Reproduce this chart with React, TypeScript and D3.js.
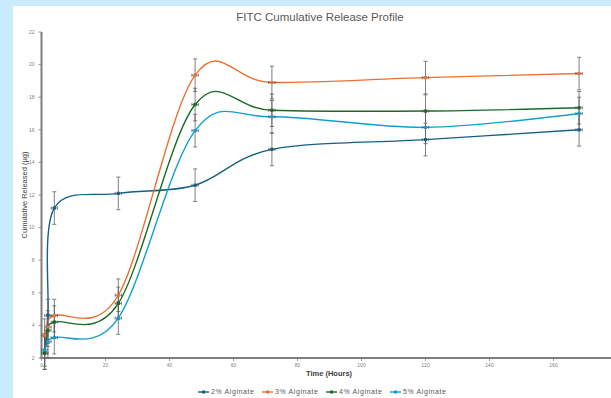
import React from 'react';
import * as d3 from 'd3';

// sampling times (hours)
const times = [1, 2, 4, 24, 48, 72, 120, 168];

// cumulative FITC released (µg) per alginate concentration
const alg2 = [2.3, 4.6, 11.2, 12.1, 12.6, 14.8, 15.4, 16.0];
const alg3 = [3.4, 3.9, 4.6, 5.85, 19.35, 18.9, 19.2, 19.45];
const alg4 = [2.3, 3.7, 4.2, 5.35, 17.55, 17.2, 17.15, 17.35];
const alg5 = [2.5, 3.0, 3.25, 4.45, 15.95, 16.8, 16.15, 17.0];

const seriesNames = ['2% Alginate', '3% Alginate', '4% Alginate', '5% Alginate'];
const seriesColors = ['#156082', '#E97132', '#196B24', '#0F9ED5'];

const yErr = 1;
const xErr = 1;

const xTicks = [0, 20, 40, 60, 80, 100, 120, 140, 160];
const yTicks = [2, 4, 6, 8, 10, 12, 14, 16, 18, 20, 22];

const W = 611;
const H = 398;

export default function App() {
  const x = d3.scaleLinear().domain([0, 180]).range([41.5, 617.5]);
  const y = d3.scaleLinear().domain([2, 22]).range([358, 32]);

  const allSeries = [alg2, alg3, alg4, alg5].map((vals, i) => ({
    name: seriesNames[i],
    color: seriesColors[i],
    points: vals.map((v, j) => ({ t: times[j], v })),
  }));

  const line = d3
    .line<{ t: number; v: number }>()
    .x(d => x(d.t))
    .y(d => y(d.v))
    .curve(d3.curveCardinal.tension(0));

  const errColor = '#5a5a5a';
  const font = 'Liberation Sans, Arial, sans-serif';

  return (
    <svg
      width={W}
      height={H}
      style={{ position: 'absolute', left: 0, top: 0, fontFamily: font }}
    >
      <rect x={0} y={0} width={W} height={H} fill="#caebfb" />
      <rect x={13} y={6} width={W - 13} height={H - 6} fill="#ffffff" />

      <text x={320} y={21} textAnchor="middle" fontSize={11.5} fill="#595959">
        FITC Cumulative Release Profile
      </text>

      {/* y axis */}
      <line x1={x(0)} x2={x(0)} y1={y(22)} y2={y(2) + 1} stroke="#7f7f7f" strokeWidth={2} />
      {yTicks.map(t => (
        <g key={'y' + t}>
          <line x1={x(0) - 3} x2={x(0)} y1={y(t)} y2={y(t)} stroke="#7f7f7f" strokeWidth={0.8} />
          <text x={x(0) - 7} y={y(t)} dy="0.35em" textAnchor="end" fontSize={5} fill="#7f7f7f">
            {t}
          </text>
        </g>
      ))}
      <text
        transform={`translate(27,195) rotate(-90)`}
        textAnchor="middle"
        fontSize={7.5}
        fill="#404040"
      >
        Cumulative Released (µg)
      </text>

      {/* x axis */}
      <line x1={x(0) - 1} x2={W} y1={y(2)} y2={y(2)} stroke="#7f7f7f" strokeWidth={2} />
      {xTicks.map(t => (
        <g key={'x' + t}>
          <line x1={x(t)} x2={x(t)} y1={y(2)} y2={y(2) + 3} stroke="#7f7f7f" strokeWidth={0.8} />
          <text x={x(t)} y={y(2) + 9} textAnchor="middle" fontSize={5} fill="#7f7f7f">
            {t}
          </text>
        </g>
      ))}
      <text x={329} y={376} textAnchor="middle" fontSize={7.5} fontWeight="bold" fill="#404040">
        Time (Hours)
      </text>

      {/* smoothed series */}
      {allSeries.map(s => (
        <path key={s.name} d={line(s.points) || ''} fill="none" stroke={s.color} strokeWidth={1.4} />
      ))}

      {/* error bars */}
      {allSeries.map(s => (
        <g key={'e' + s.name} stroke={errColor} strokeWidth={0.9} opacity={0.85}>
          {s.points.map((p, j) => {
            const cx = x(p.t);
            const cy = y(p.v);
            const top = y(p.v + yErr);
            const bot = y(p.v - yErr);
            const l = x(p.t - xErr);
            const r = x(p.t + xErr);
            return (
              <g key={j}>
                <line x1={cx} x2={cx} y1={top} y2={bot} />
                <line x1={cx - 2} x2={cx + 2} y1={top} y2={top} />
                <line x1={cx - 2} x2={cx + 2} y1={bot} y2={bot} />
                <line x1={l} x2={r} y1={cy} y2={cy} />
                <line x1={l} x2={l} y1={cy - 1.5} y2={cy + 1.5} />
                <line x1={r} x2={r} y1={cy - 1.5} y2={cy + 1.5} />
              </g>
            );
          })}
        </g>
      ))}

      {/* markers */}
      {allSeries.map(s => (
        <g key={'m' + s.name} fill={s.color}>
          {s.points.map((p, j) => (
            <rect key={j} x={x(p.t) - 1.6} y={y(p.v) - 1.6} width={3.2} height={3.2} />
          ))}
        </g>
      ))}

      {/* legend */}
      {allSeries.map((s, i) => {
        const lx = 198 + i * 64;
        const ly = 392;
        return (
          <g key={'l' + s.name}>
            <line x1={lx} x2={lx + 11} y1={ly} y2={ly} stroke={s.color} strokeWidth={1.4} />
            <rect x={lx + 4} y={ly - 1.5} width={3} height={3} fill={s.color} />
            <text x={lx + 13} y={ly} dy="0.35em" fontSize={7} letterSpacing={0.6} fill="#595959">
              {s.name}
            </text>
          </g>
        );
      })}
    </svg>
  );
}
